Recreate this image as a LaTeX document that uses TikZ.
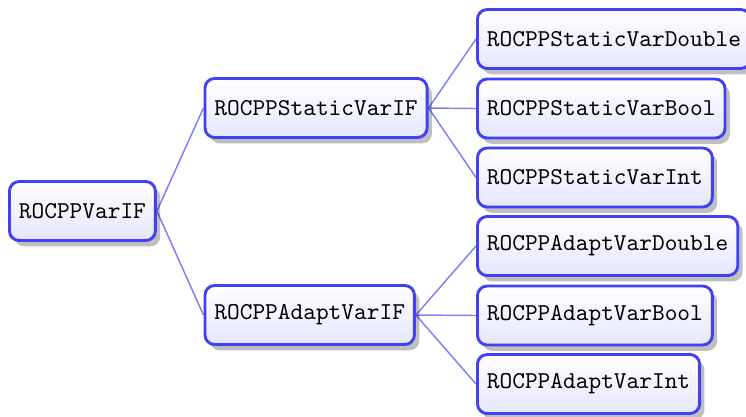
\documentclass[tikz,border=0pt]{standalone}
\usetikzlibrary{shadows,backgrounds}
\definecolor{edgeblue}{RGB}{125,125,255}
\definecolor{boxblue}{RGB}{64,64,245}
\begin{document}
\begin{tikzpicture}[x=0.4132pt,y=-0.4132pt,
  cls/.style={draw=boxblue, line width=1.2pt, rounded corners=4pt,
    top color=white, bottom color=blue!10,
    drop shadow={shadow xshift=2pt, shadow yshift=-2.4pt, fill=black, opacity=0.25},
    font=\ttfamily, minimum height={59*0.4132pt}, inner xsep=3.9pt, anchor=west},
  link/.style={draw=edgeblue, line width=0.6pt}]
\useasboundingbox (0,0) rectangle (746,416);
\node[cls] (root) at (8,211) {ROCPPVarIF};
\node[cls] (svif) at (203.5,108) {ROCPPStaticVarIF};
\node[cls] (avif) at (203.5,315) {ROCPPAdaptVarIF};
\node[cls] (svd) at (476,39) {ROCPPStaticVarDouble};
\node[cls] (svb) at (476,108.5) {ROCPPStaticVarBool};
\node[cls] (svi) at (476,177.5) {ROCPPStaticVarInt};
\node[cls] (avd) at (476,246) {ROCPPAdaptVarDouble};
\node[cls] (avb) at (476,315.5) {ROCPPAdaptVarBool};
\node[cls] (avi) at (476,384) {ROCPPAdaptVarInt};
\begin{scope}[on background layer]
\draw[link] (root.east) -- (svif.west);
\draw[link] (root.east) -- (avif.west);
\draw[link] (svif.east) -- (svd.west);
\draw[link] (svif.east) -- (svb.west);
\draw[link] (svif.east) -- (svi.west);
\draw[link] (avif.east) -- (avd.west);
\draw[link] (avif.east) -- (avb.west);
\draw[link] (avif.east) -- (avi.west);
\end{scope}
\end{tikzpicture}
\end{document}
